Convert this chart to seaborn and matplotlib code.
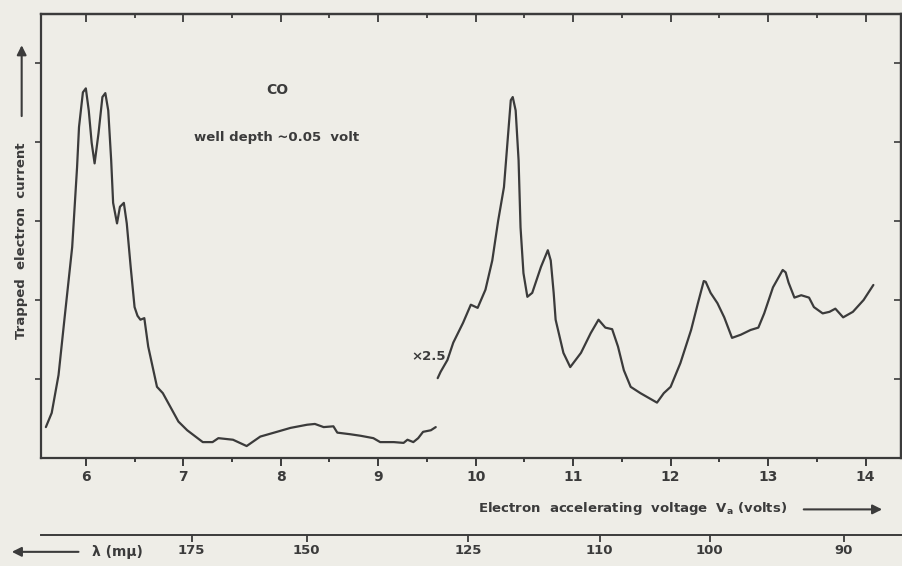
import numpy as np
import pandas as pd
import matplotlib
matplotlib.use("Agg")
import matplotlib.pyplot as plt
import seaborn as sns
from matplotlib.ticker import NullLocator

# ----------------------------------------------------------
# DATA
# ----------------------------------------------------------

# main curve, volts / arbitrary current
main_v = [5.59, 5.65, 5.72, 5.78, 5.86, 5.91, 5.93, 5.97, 6.00, 6.03, 6.06, 6.09,
          6.13, 6.17, 6.20, 6.23, 6.26, 6.28, 6.32, 6.35, 6.39, 6.42, 6.46, 6.50,
          6.53, 6.56, 6.60, 6.64, 6.73, 6.79, 6.95, 7.04, 7.20, 7.30, 7.36, 7.51,
          7.65, 7.79, 7.96, 8.10, 8.27, 8.35, 8.44, 8.54, 8.58, 8.71, 8.82, 8.95,
          9.02, 9.16, 9.26, 9.30, 9.36, 9.41, 9.46, 9.54, 9.59]
main_i = [0.39, 0.57, 1.05, 1.75, 2.67, 3.68, 4.19, 4.63, 4.68, 4.40, 3.99, 3.73,
          4.11, 4.57, 4.62, 4.40, 3.77, 3.23, 2.97, 3.18, 3.23, 2.97, 2.42, 1.91,
          1.80, 1.75, 1.77, 1.41, 0.90, 0.82, 0.46, 0.35, 0.20, 0.20, 0.25, 0.23,
          0.15, 0.27, 0.33, 0.38, 0.42, 0.43, 0.39, 0.40, 0.32, 0.30, 0.28, 0.25,
          0.20, 0.20, 0.19, 0.23, 0.20, 0.25, 0.33, 0.35, 0.39]

# x2.5 magnified part
mag_v = [9.61, 9.64, 9.71, 9.77, 9.87, 9.95, 10.02, 10.10, 10.17, 10.23, 10.29,
         10.33, 10.36, 10.38, 10.41, 10.44, 10.46, 10.49, 10.53, 10.58, 10.67, 10.74,
         10.77, 10.80, 10.82, 10.90, 10.97, 11.08, 11.18, 11.26, 11.33, 11.40, 11.46,
         11.52, 11.59, 11.69, 11.86, 11.93, 12.00, 12.10, 12.21, 12.28, 12.34, 12.36,
         12.41, 12.48, 12.55, 12.63, 12.72, 12.82, 12.90, 12.96, 13.05, 13.15, 13.18,
         13.21, 13.27, 13.34, 13.42, 13.47, 13.56, 13.63, 13.69, 13.77, 13.87, 13.98,
         14.08]
mag_i = [1.01, 1.09, 1.24, 1.46, 1.71, 1.94, 1.90, 2.13, 2.50, 3.00, 3.43,
         4.06, 4.53, 4.57, 4.40, 3.77, 2.92, 2.34, 2.04, 2.09, 2.42, 2.63,
         2.50, 2.09, 1.75, 1.33, 1.15, 1.33, 1.58, 1.75, 1.65, 1.63, 1.41,
         1.11, 0.90, 0.82, 0.70, 0.82, 0.90, 1.20, 1.62, 1.96, 2.24, 2.23,
         2.09, 1.96, 1.78, 1.52, 1.56, 1.62, 1.65, 1.83, 2.16, 2.38, 2.35,
         2.22, 2.03, 2.06, 2.03, 1.91, 1.83, 1.85, 1.89, 1.78, 1.85, 2.00,
         2.19]

volt_ticks = [6, 7, 8, 9, 10, 11, 12, 13, 14]
lambda_ticks = [175, 150, 125, 110, 100, 90]


def volt_to_nm(x):
    x = np.asarray(x, dtype=float)
    with np.errstate(divide="ignore", invalid="ignore"):
        return 1240.0 / x


# ----------------------------------------------------------
# STYLE
# ----------------------------------------------------------

paper = "#eeede7"
ink = "#3b3b3b"

sns.set_style("ticks")
plt.rcParams["font.family"] = ["DejaVu Sans"]
plt.rcParams["text.color"] = ink
plt.rcParams["axes.edgecolor"] = ink
plt.rcParams["xtick.color"] = ink
plt.rcParams["ytick.color"] = ink

fig = plt.figure(figsize=(9.03, 5.66), dpi=100, facecolor=paper)
ax = fig.add_axes([0.0454, 0.191, 0.952, 0.784], facecolor=paper)

df_main = pd.DataFrame({"V": main_v, "I": main_i})
df_mag = pd.DataFrame({"V": mag_v, "I": mag_i})

line_kw = dict(color=ink, lw=1.6, sort=False, solid_joinstyle="round",
               solid_capstyle="round")
sns.lineplot(data=df_main, x="V", y="I", ax=ax, **line_kw)
sns.lineplot(data=df_mag, x="V", y="I", ax=ax, **line_kw)

ax.set_xlim(5.54, 14.36)
ax.set_ylim(0, 5.62)
ax.set_xlabel("")
ax.set_ylabel("")

for s in ax.spines.values():
    s.set_linewidth(1.6)
    s.set_visible(True)

# bottom voltage axis
ax.set_xticks(volt_ticks)
ax.set_xticks(np.arange(6.5, 14.1, 1.0), minor=True)
ax.tick_params(axis="x", which="major", direction="out", length=6, width=1.4,
               labelsize=10, pad=3)
ax.tick_params(axis="x", which="minor", direction="out", length=3, width=1.4)
for lab in ax.get_xticklabels():
    lab.set_fontweight("semibold")

# left ticks, no labels
ax.set_yticks([1, 2, 3, 4, 5])
ax.tick_params(axis="y", direction="out", length=4, width=1.2, labelleft=False)

# top ticks pointing in (longer at whole volts)
top = ax.secondary_xaxis("top")
top.set_xticks(volt_ticks)
top.set_xticks(np.arange(6.5, 14.1, 1.0), minor=True)
top.tick_params(which="major", direction="in", length=6, width=1.3, labeltop=False)
top.tick_params(which="minor", direction="in", length=3, width=1.3)
top.spines["top"].set_linewidth(1.6)

# right ticks pointing in
right = ax.secondary_yaxis("right")
right.set_yticks([1, 2, 3, 4, 5])
right.tick_params(direction="in", length=5, width=1.2, labelright=False)
right.spines["right"].set_linewidth(1.6)

# wavelength scale below: lambda (nm) = 1240 / V
lam = ax.secondary_xaxis(-0.173, functions=(volt_to_nm, volt_to_nm))
lam.set_xticks(lambda_ticks)
lam.xaxis.set_minor_locator(NullLocator())
lam.tick_params(direction="out", length=5, width=1.3, labelsize=9.5, pad=2)
lam.spines["bottom"].set_linewidth(1.4)
for lab in lam.get_xticklabels():
    lab.set_fontweight("semibold")

# ----------------------------------------------------------
# TEXTS
# ----------------------------------------------------------

ax.text(7.96, 4.66, "CO", ha="center", va="center", fontsize=10,
        fontweight="semibold")
ax.text(7.96, 4.06, "well depth ~0.05  volt", ha="center", va="center",
        fontsize=9.5, fontweight="semibold")
ax.text(9.52, 1.28, "×2.5", ha="center", va="center", fontsize=9.5,
        fontweight="semibold")

fig.text(0.024, 0.575, "Trapped  electron  current", rotation=90,
         ha="center", va="center", fontsize=9.5, fontweight="semibold")

arrow = dict(arrowstyle="-|>", color=ink, lw=1.5, mutation_scale=14)
ax.annotate("", xy=(0.024, 0.925), xytext=(0.024, 0.79),
            xycoords="figure fraction", arrowprops=arrow, annotation_clip=False)

fig.text(0.529, 0.102, "Electron  accelerating  voltage  V$_\\mathregular{a}$ (volts)",
         ha="left", va="center", fontsize=9.5, fontweight="semibold")
ax.annotate("", xy=(0.98, 0.100), xytext=(0.887, 0.100),
            xycoords="figure fraction", arrowprops=arrow, annotation_clip=False)

fig.text(0.102, 0.025, "λ (mμ)", ha="left", va="center", fontsize=10,
         fontweight="semibold")
ax.annotate("", xy=(0.010, 0.025), xytext=(0.090, 0.025),
            xycoords="figure fraction", arrowprops=arrow, annotation_clip=False)

fig.savefig("out.png", dpi=100, facecolor=paper)
